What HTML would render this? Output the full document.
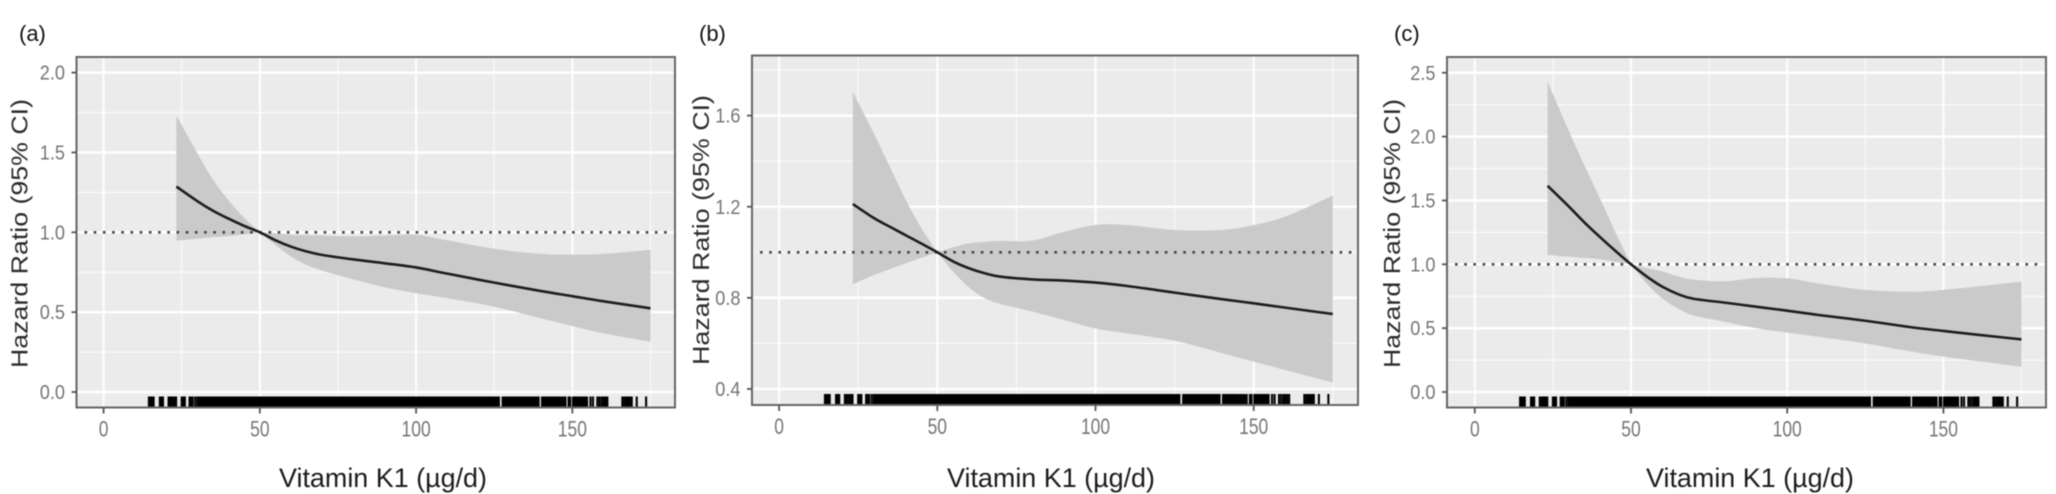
<!DOCTYPE html>
<html lang="en">
<head>
<meta charset="utf-8">
<title>Hazard ratio by Vitamin K1 intake</title>
<style>
  html, body { margin: 0; padding: 0; background: #fff; width: 2056px; height: 494px; overflow: hidden; }
  svg { display: block; filter: blur(0.55px); }
  text { font-family: "Liberation Sans", sans-serif; }
  .panel-label { font-size: 22px; fill: #111; }
  .y-title { font-size: 23px; fill: #2b2b2b; text-anchor: middle; }
  .x-title { font-size: 27px; fill: #1c1c1c; text-anchor: middle; }
  .tick-label { fill: #757575; }
</style>
</head>
<body>
<svg id="figure" xmlns="http://www.w3.org/2000/svg" width="2056" height="494" viewBox="0 0 2056 494">
  <g id="panel-a"></g>
  <g id="panel-b"></g>
  <g id="panel-c"></g>

  <text class="panel-label" x="19" y="41">(a)</text>
  <text class="panel-label" x="699" y="41">(b)</text>
  <text class="panel-label" x="1394" y="41">(c)</text>

  <text class="y-title" transform="translate(27.5,233.5) rotate(-90)" textLength="269" lengthAdjust="spacingAndGlyphs">Hazard Ratio (95% CI)</text>
  <text class="y-title" transform="translate(709,230) rotate(-90)" textLength="270" lengthAdjust="spacingAndGlyphs">Hazard Ratio (95% CI)</text>
  <text class="y-title" transform="translate(1400,233.5) rotate(-90)" textLength="269" lengthAdjust="spacingAndGlyphs">Hazard Ratio (95% CI)</text>

  <text class="x-title" x="383" y="487" textLength="208" lengthAdjust="spacingAndGlyphs">Vitamin K1 (µg/d)</text>
  <text class="x-title" x="1051" y="487" textLength="208" lengthAdjust="spacingAndGlyphs">Vitamin K1 (µg/d)</text>
  <text class="x-title" x="1750" y="487" textLength="208" lengthAdjust="spacingAndGlyphs">Vitamin K1 (µg/d)</text>
</svg>

<script>
// ---- Data ----
const xTickValues = [0, 50, 100, 150];
const xTickLabels = ["0", "50", "100", "150"];
const xMinorValues = [25, 75, 125, 175];

const aYTickValues = [0, 0.5, 1, 1.5, 2];
const aYTickLabels = ["0.0", "0.5", "1.0", "1.5", "2.0"];
const aYMinorValues = [0.25, 0.75, 1.25, 1.75];

const bYTickValues = [0.4, 0.8, 1.2, 1.6];
const bYTickLabels = ["0.4", "0.8", "1.2", "1.6"];
const bYMinorValues = [0.6, 1, 1.4, 1.8];

const cYTickValues = [0, 0.5, 1, 1.5, 2, 2.5];
const cYTickLabels = ["0.0", "0.5", "1.0", "1.5", "2.0", "2.5"];
const cYMinorValues = [0.25, 0.75, 1.25, 1.75, 2.25];

const vitaminK1 = [23.3, 30, 35, 40, 45, 50, 55, 60, 65, 70, 80, 90, 100, 110, 125, 140, 150, 160, 175];

const aHazard = [1.286, 1.195, 1.135, 1.085, 1.04, 1, 0.95, 0.91, 0.88, 0.858, 0.83, 0.806, 0.78, 0.741, 0.685, 0.632, 0.6, 0.568, 0.524];
const aUpper  = [1.73, 1.495, 1.33, 1.2, 1.09, 1, 0.994, 0.985, 0.982, 0.98, 0.975, 0.98, 0.985, 0.95, 0.897, 0.865, 0.86, 0.865, 0.89];
const aLower  = [0.948, 0.96, 0.97, 0.977, 0.987, 1, 0.92, 0.848, 0.795, 0.76, 0.705, 0.655, 0.618, 0.587, 0.534, 0.461, 0.413, 0.367, 0.315];

const bHazard = [1.212, 1.15, 1.112, 1.075, 1.038, 1, 0.96, 0.93, 0.908, 0.893, 0.881, 0.876, 0.867, 0.852, 0.823, 0.794, 0.776, 0.757, 0.729];
const bUpper  = [1.705, 1.52, 1.376, 1.23, 1.105, 1, 1.022, 1.04, 1.046, 1.05, 1.051, 1.09, 1.12, 1.12, 1.098, 1.098, 1.12, 1.157, 1.249];
const bLower  = [0.86, 0.9, 0.926, 0.952, 0.976, 1, 0.915, 0.846, 0.798, 0.773, 0.74, 0.703, 0.666, 0.644, 0.612, 0.557, 0.52, 0.483, 0.428];

const cHazard = [1.615, 1.455, 1.33, 1.215, 1.105, 1, 0.905, 0.825, 0.767, 0.73, 0.7, 0.668, 0.637, 0.603, 0.558, 0.506, 0.478, 0.451, 0.412];
const cUpper  = [2.43, 2.05, 1.78, 1.52, 1.25, 1, 0.97, 0.945, 0.905, 0.88, 0.867, 0.893, 0.89, 0.85, 0.8, 0.785, 0.8, 0.824, 0.864];
const cLower  = [1.073, 1.06, 1.05, 1.04, 1.02, 1, 0.85, 0.733, 0.655, 0.6, 0.55, 0.5, 0.465, 0.433, 0.38, 0.316, 0.277, 0.245, 0.198];

const referenceHazard = 1;
const pinchIndex = 5;

const rugValues = [
  14.5, 15, 15.5, 16, 18, 18.5, 19, 20.8, 21.4, 22, 22.6, 23.2, 25, 25.5, 26, 27.5, 28, 28.5, 29.3,
  30, 30.5, 31, 31.5, 32, 32.5, 33, 33.5, 34, 34.5, 35, 35.5, 36, 36.5, 37, 37.5, 38, 38.5, 39, 39.5,
  40, 40.5, 41, 41.5, 42, 42.5, 43, 43.5, 44, 44.5, 45, 45.5, 46, 46.5, 47, 47.5, 48, 48.5, 49, 49.5,
  50, 50.5, 51, 51.5, 52, 52.5, 53, 53.5, 54, 54.5, 55, 55.5, 56, 56.5, 57, 57.5, 58, 58.5, 59, 59.5,
  60, 60.5, 61, 61.5, 62, 62.5, 63, 63.5, 64, 64.5, 65, 65.5, 66, 66.5, 67, 67.5, 68, 68.5, 69, 69.5,
  70, 70.5, 71, 71.5, 72, 72.5, 73, 73.5, 74, 74.5, 75, 75.5, 76, 76.5, 77, 77.5, 78, 78.5, 79, 79.5,
  80, 80.5, 81, 81.5, 82, 82.5, 83, 83.5, 84, 84.5, 85, 85.5, 86, 86.5, 87, 87.5, 88, 88.5, 89, 89.5,
  90, 90.5, 91, 91.5, 92, 92.5, 93, 93.5, 94, 94.5, 95, 95.5, 96, 96.5, 97, 97.5, 98, 98.5, 99, 99.5,
  100, 100.5, 101, 101.5, 102, 102.5, 103, 103.5, 104, 104.5, 105, 105.5, 106, 106.5, 107, 107.5, 108, 108.5, 109, 109.5,
  110, 110.5, 111, 111.5, 112, 112.5, 113, 113.5, 114, 114.5, 115, 115.5, 116, 116.5, 117, 117.5, 118, 118.5, 119, 119.5,
  120, 120.5, 121, 121.5, 122, 122.5, 123, 123.5, 124, 124.5, 125, 125.5, 126, 126.5,
  127.7, 128.2, 128.7, 129.2, 129.7, 130.2, 130.7, 131.2, 131.7, 132.2, 132.7, 133.2, 133.7, 134.2, 134.7, 135.2, 135.7, 136.2, 136.7, 137.2, 137.7, 138.2, 138.7, 139.2,
  140.3, 140.8, 141.3, 141.8, 142.3, 142.8, 143.3, 143.8, 144.3, 144.8, 145.4, 146, 146.6, 147.2, 147.8, 148.8, 149.3,
  150.2, 150.7, 151.2, 151.7, 152.2, 152.7, 153.2, 153.7, 154.2, 154.7,
  155.8, 156.6, 158, 158.7, 159.4, 160, 160.6, 161.2,
  166, 166.6, 167.2, 167.8, 168.4, 169, 170.6, 173.6
];

// ---- Rendering ----
const SVG_NS = "http://www.w3.org/2000/svg";

function el(parent, tag, attrs, text) {
  const node = document.createElementNS(SVG_NS, tag);
  for (const key in attrs) node.setAttribute(key, attrs[key]);
  if (text !== undefined) node.textContent = text;
  parent.appendChild(node);
  return node;
}

function curveSegments(xs, ys) {
  let d = "";
  for (let i = 0; i < xs.length - 1; i++) {
    const i0 = Math.max(i - 1, 0);
    const i3 = Math.min(i + 2, xs.length - 1);
    const c1x = xs[i] + (xs[i + 1] - xs[i0]) / 6;
    const c1y = ys[i] + (ys[i + 1] - ys[i0]) / 6;
    const c2x = xs[i + 1] - (xs[i3] - xs[i]) / 6;
    const c2y = ys[i + 1] - (ys[i3] - ys[i]) / 6;
    d += "C" + c1x.toFixed(2) + "," + c1y.toFixed(2) + " " + c2x.toFixed(2) + "," + c2y.toFixed(2) + " " + xs[i + 1].toFixed(2) + "," + ys[i + 1].toFixed(2);
  }
  return d;
}

function smoothPath(xs, ys) {
  return "M" + xs[0].toFixed(2) + "," + ys[0].toFixed(2) + curveSegments(xs, ys);
}

// Band edge drawn in two smooth pieces so the pinch at the reference value stays sharp.
function edgeForward(xs, ys) {
  return curveSegments(xs.slice(0, pinchIndex + 1), ys.slice(0, pinchIndex + 1)) +
         curveSegments(xs.slice(pinchIndex), ys.slice(pinchIndex));
}

function edgeBackward(xs, ys) {
  const last = xs.length - 1;
  const rx = xs.slice().reverse();
  const ry = ys.slice().reverse();
  const split = last - pinchIndex;
  return "L" + rx[0].toFixed(2) + "," + ry[0].toFixed(2) +
         curveSegments(rx.slice(0, split + 1), ry.slice(0, split + 1)) +
         curveSegments(rx.slice(split), ry.slice(split));
}

function drawPanel(id, box, xAxis, yAxis, yTicks, yLabels, yMinor, hazard, upper, lower) {
  const g = document.getElementById(id);

  const bg = el(g, "rect", { x: box.left, y: box.top, width: box.right - box.left, height: box.bottom - box.top, fill: "#ebebeb" });
  
  

  xMinorValues.forEach(function (v) {
    const line = el(g, "line", { x1: xAxis(v), x2: xAxis(v), y1: box.top, y2: box.bottom, stroke: "#fbfbfb", "stroke-width": 1 });
    
    
  });
  yMinor.forEach(function (v) {
    const line = el(g, "line", { x1: box.left, x2: box.right, y1: yAxis(v), y2: yAxis(v), stroke: "#fbfbfb", "stroke-width": 1.2 });
    
    
  });
  xTickValues.forEach(function (v) {
    const line = el(g, "line", { x1: xAxis(v), x2: xAxis(v), y1: box.top, y2: box.bottom, stroke: "#fff", "stroke-width": 2 });
    
    
  });
  yTicks.forEach(function (v) {
    const line = el(g, "line", { x1: box.left, x2: box.right, y1: yAxis(v), y2: yAxis(v), stroke: "#fff", "stroke-width": 2.4 });
    
    
  });

  const px = vitaminK1.map(xAxis);
  const upperPx = upper.map(yAxis);
  const lowerPx = lower.map(yAxis);
  const ribbon = el(g, "path", {
    d: "M" + px[0].toFixed(2) + "," + upperPx[0].toFixed(2) + edgeForward(px, upperPx) + edgeBackward(px, lowerPx) + "Z",
    fill: "#c8c8c8", "fill-opacity": 0.97
  });
  
  

  const ref = el(g, "line", { x1: box.left + 8, x2: box.right - 3, y1: yAxis(referenceHazard), y2: yAxis(referenceHazard), stroke: "#444", "stroke-width": 2.6, "stroke-dasharray": "2.6 6.6" });
  
  

  const curve = el(g, "path", {
    d: smoothPath(px, hazard.map(yAxis)),
    fill: "none", stroke: "#1d1d1d", "stroke-width": 2.6, "stroke-linejoin": "round"
  });
  
  

  rugValues.forEach(function (v) {
    const tick = el(g, "line", { x1: xAxis(v), x2: xAxis(v), y1: box.bottom - 11, y2: box.bottom, stroke: "#000", "stroke-width": 2.1 });
    
    
  });

  const frame = el(g, "rect", { x: box.left, y: box.top, width: box.right - box.left, height: box.bottom - box.top, fill: "none", stroke: "#666", "stroke-width": 2 });
  
  

  xTickValues.forEach(function (v, i) {
    const mark = el(g, "line", { x1: xAxis(v), x2: xAxis(v), y1: box.bottom, y2: box.bottom + 6, stroke: "#555", "stroke-width": 1.8 });
    
    
    const label = el(g, "text", {
      class: "tick-label", x: xAxis(v), y: box.bottom + 29, "text-anchor": "middle", "font-size": 22,
      textLength: xTickLabels[i].length * 9.7, lengthAdjust: "spacingAndGlyphs"
    }, xTickLabels[i]);
    
    
  });

  yTicks.forEach(function (v, i) {
    const mark = el(g, "line", { x1: box.left - 5, x2: box.left, y1: yAxis(v), y2: yAxis(v), stroke: "#555", "stroke-width": 1.8 });
    
    
    const label = el(g, "text", {
      class: "tick-label", x: box.left - 11.5, y: yAxis(v) + 7, "text-anchor": "end", "font-size": 20,
      textLength: yLabels[i].length * 8.4, lengthAdjust: "spacingAndGlyphs"
    }, yLabels[i]);
    
    
  });
}

function linear(value0Px, pxPerUnit, value0) {
  return function (v) { return value0Px + (v - value0) * pxPerUnit; };
}

drawPanel("panel-a", { left: 76.5, right: 675, top: 57, bottom: 407.5 },
  linear(103.6, 3.125, 0), linear(392, -159.7, 0),
  aYTickValues, aYTickLabels, aYMinorValues, aHazard, aUpper, aLower);

drawPanel("panel-b", { left: 752, right: 1358, top: 55.5, bottom: 405 },
  linear(779.1, 3.164, 0), linear(252.3, -227.75, 1),
  bYTickValues, bYTickLabels, bYMinorValues, bHazard, bUpper, bLower);

drawPanel("panel-c", { left: 1447, right: 2046, top: 57, bottom: 407.5 },
  linear(1474.8, 3.124, 0), linear(392, -127.7, 0),
  cYTickValues, cYTickLabels, cYMinorValues, cHazard, cUpper, cLower);
</script>
</body>
</html>
